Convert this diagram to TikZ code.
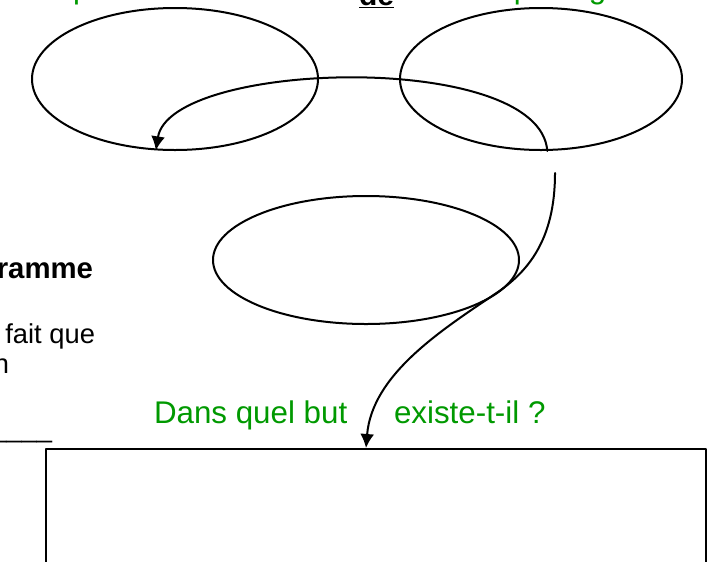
\documentclass[tikz,border=0pt]{standalone}
\usepackage{fontspec}
\setmainfont{Liberation Sans}
\usetikzlibrary{shapes.geometric,arrows.meta}
\definecolor{butgreen}{RGB}{0,153,0}
\tikzset{
  bulle/.style={draw, ellipse, inner sep=0pt},
  question/.style={text=butgreen, inner sep=0pt, font=\fontsize{23.5}{28}\selectfont},
  consigne/.style={inner sep=0pt, font=\fontsize{20.5}{24}\selectfont},
  fleche/.style={-{Latex[length=10.5pt,width=10.5pt]}},
}
\begin{document}
\begin{tikzpicture}[x=0.75pt,y=-0.75pt,line width=1.5pt,line cap=round,line join=round]
\useasboundingbox (0,0) rectangle (712,561);
% questions at the top, cut by the page edge
\node[question, anchor=base west] (qui) at (32,-2) {À qui rend-il service ?};
\node[anchor=base west, inner sep=0pt, font=\bfseries\fontsize{22.5}{27}\selectfont] (de) at (358,5) {\underline{de}};
\node[question, anchor=base west] (quoi) at (445,-2) {Sur quoi agit-il ?};
% the three bubbles
\node[bulle, minimum width=214.5pt, minimum height=106.5pt] (usager) at (175,79) {};
\node[bulle, minimum width=211.5pt, minimum height=106.5pt] (produit) at (541,79) {};
\node[bulle, minimum width=229.5pt, minimum height=96pt] (but) at (366,260) {};
% text on the left
\node[consigne, font=\bfseries\fontsize{22}{26}\selectfont, anchor=base east] (titre) at (94,278) {ramme};
\node[consigne, anchor=base east] (ligne1) at (96,343) {e fait que};
\node[consigne, anchor=base east] (ligne2) at (10,373) {n};
\node[consigne, anchor=base east] (trait) at (53,437) {\_\_\_\_};
% the box
\node[draw, inner sep=0pt, minimum width=495pt, minimum height=120pt] (cadre) at (376,529) {};
\node[question, anchor=base west] (dans) at (153,423) {Dans quel but};
\node[question, anchor=base west] (existe) at (393,423) {existe-t-il ?};
% arrows
\coordinate (depart) at (555,173);
\coordinate (frole) at (495,294);
\draw[fleche] (produit.275) .. controls (540,50) and (170,60) .. (usager.255);
\draw[fleche] (depart) .. controls (555,240) and (528,272) .. (frole)
  .. controls (440,331) and (372,375) .. (cadre.north -| but.center);
\end{tikzpicture}
\end{document}
